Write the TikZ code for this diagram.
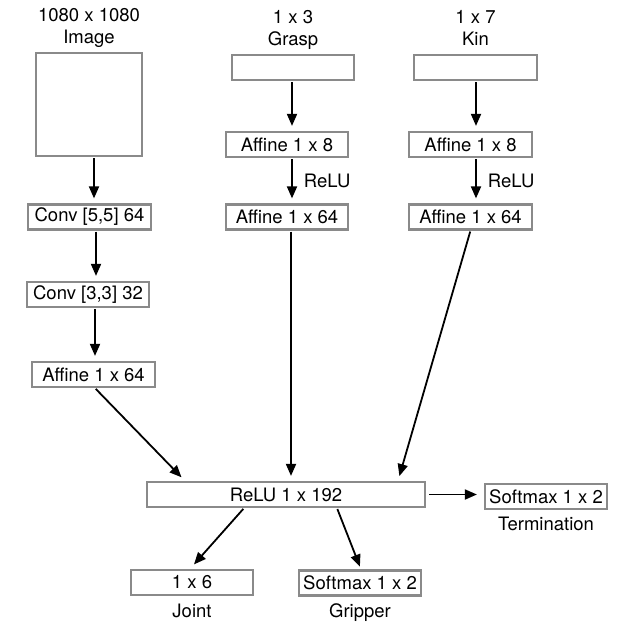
\documentclass[tikz,border=0pt]{standalone}
\usepackage{fontspec}
\setmainfont{TeX Gyre Heros}
\usetikzlibrary{arrows.meta,positioning}
\definecolor{boxgray}{HTML}{8A8A8A}

\tikzset{
  layer/.style={draw=boxgray, line width=2.2pt, inner sep=0pt,
    minimum width=122pt, minimum height=25pt},
  arr/.style={-{Triangle[length=12pt,width=10pt]}, line width=1.8pt,
    shorten <=1pt, shorten >=5pt},
  tagtext/.style={inner sep=0pt, text height=13pt, text depth=4pt, align=center}
}

\begin{document}
\begin{tikzpicture}[x=1pt,y=-1pt,font=\fontsize{18.5}{22}\selectfont]

        \useasboundingbox (0,0) rectangle (617,629);

        % Inputs
        \node[layer, minimum width=106pt, minimum height=103pt] (img) at (89,104.5) {};
        \node[layer] (grasp) at (293,67.5) {};
        \node[layer, minimum width=123pt] (kin) at (475.5,67.5) {};

        \node[tagtext, above=4pt of img] (imglab) {1080 x 1080\\Image};
        \node[tagtext, above=4pt of grasp] (grasplab) {1 x 3\\Grasp};
        \node[tagtext, above=4pt of kin] (kinlab) {1 x 7\\Kin};

        % Image branch
        \node[layer, minimum width=123pt] (conva) at (89.5,217) {Conv [5,5] 64};
        \node[layer] (convb) at (88,294.5) {Conv [3,3] 32};
        \node[layer, minimum width=123pt] (imgaff) at (93.5,374.5) {Affine 1 x 64};

        % Grasp and kin branches
        \node[layer] (graspa) at (287,144.5) {Affine 1 x 8};
        \node[layer] (graspb) at (287,217) {Affine 1 x 64};
        \node[layer, minimum width=123pt] (kina) at (470.5,144.5) {Affine 1 x 8};
        \node[layer, minimum width=123pt] (kinb) at (470.5,217) {Affine 1 x 64};

        % Merge and outputs
        \node[layer, minimum width=278pt] (merge) at (286,494.5) {ReLU 1 x 192};
        \node[layer] (term) at (546,496.5) {Softmax 1 x 2};
        \node[layer] (joint) at (192,582.5) {1 x 6};
        \node[layer] (grip) at (360,583) {Softmax 1 x 2};

        \node[tagtext, below=7pt of term] (termlab) {Termination};
        \node[tagtext, below=8pt of joint] (jointlab) {Joint};
        \node[tagtext, below=8pt of grip] (griplab) {Gripper};

        % Arrows
        \draw[arr] ([xshift=5pt]img.south) -- ([xshift=5pt]img.south |- conva.north);
        \draw[arr] ([xshift=6.5pt]conva.south) -- ([xshift=6.5pt]conva.south |- convb.north);
        \draw[arr] ([xshift=7pt]convb.south) -- ([xshift=7pt]convb.south |- imgaff.north);
        \draw[arr] ([xshift=1.5pt]imgaff.south) -- ([xshift=-101pt]merge.north);

        \draw[arr] ([xshift=-1pt]grasp.south) -- ([xshift=-1pt]grasp.south |- graspa.north);
        \draw[arr] ([xshift=5pt]graspa.south) -- ([xshift=5pt]graspa.south |- graspb.north)
            node[midway, right=11pt, inner sep=0pt] (grasprelu) {ReLU};
        \draw[arr] ([xshift=4pt]graspb.south) -- ([xshift=4pt]graspb.south |- merge.north);

        \draw[arr] ([xshift=0.5pt]kin.south) -- ([xshift=0.5pt]kin.south |- kina.north);
        \draw[arr] ([xshift=5.5pt]kina.south) -- ([xshift=5.5pt]kina.south |- kinb.north)
            node[midway, right=11pt, inner sep=0pt] (kinrelu) {ReLU};
        \draw[arr] (kinb.south) -- ([xshift=112pt]merge.north);

        \draw[arr, shorten <=3pt, shorten >=7pt] (merge.east) -- (merge.east -| term.west);
        \draw[arr, shorten >=6pt] ([xshift=-42pt]merge.south) -- ([xshift=-2pt]joint.north);
        \draw[arr, shorten >=3pt] ([xshift=51pt]merge.south) -- ([xshift=1pt]grip.north);

    \end{tikzpicture}
\end{document}
